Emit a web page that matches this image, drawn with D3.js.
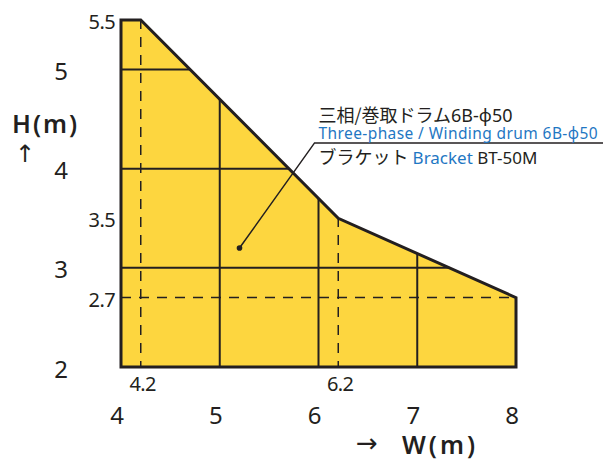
<!DOCTYPE html>
<html>
<head>
<meta charset="utf-8">
<script src="https://cdn.jsdelivr.net/npm/d3@7"></script>
<style>
  body { margin: 0; background: #fff; }
  text { fill: #231f20; }
</style>
</head>
<body>
<div id="viz"></div>
<script>
// working range outline (W, H) in metres
var outlineW = [4, 4, 4.2, 6.2, 8, 8];
var outlineH = [2, 5.5, 5.5, 3.5, 2.7, 2];

// grid lines
var gridH = [5, 4, 3];
var gridW = [5, 6, 7];

// dashed reference lines
var refW = [4.2, 6.2];
var refWTop = [5.5, 3.5];
var refH = [2.7];

// tick labels
var bigTicksW = [4, 5, 6, 7, 8];
var bigTicksH = [5, 4, 3, 2];
var smallTicksW = [4.2, 6.2];
var smallTicksH = [5.5, 3.5, 2.7];

// annotation
var notePoint = [5.2, 3.2];
var noteElbow = [5.96, 4.26];
var noteLine1 = ['三相/巻取ドラム', '6B-φ50'];
var noteLine2 = 'Three-phase / Winding drum 6B-φ50';
var noteLine3 = ['ブラケット ', 'Bracket', ' BT-50M'];

var width = 603, height = 460;
var blue = '#1f77c3';

var svg = d3.select('#viz').append('svg')
    .attr('width', width)
    .attr('height', height);

var x = d3.scaleLinear().domain([4, 8]).range([121, 516]);
var y = d3.scaleLinear().domain([2, 5.5]).range([367, 20]);

// top edge of the area, as H for a W and W for an H
var topOfW = d3.scaleLinear().domain([4, 4.2, 6.2, 8]).range([5.5, 5.5, 3.5, 2.7]);
var edgeOfH = d3.scaleLinear().domain([2.7, 3.5, 5.5]).range([8, 6.2, 4.2]);

var pts = outlineW.map(function(w, i) { return [x(w), y(outlineH[i])]; });
var line = d3.line();

// fill
svg.append('path')
    .attr('d', line(pts) + 'Z')
    .attr('fill', '#fdd63f')
    .attr('stroke', 'none');

// grid
svg.selectAll('.gh')
    .data(gridH)
    .enter().append('line')
    .attr('x1', x(4)).attr('x2', function(d) { return x(edgeOfH(d)); })
    .attr('y1', function(d) { return y(d); }).attr('y2', function(d) { return y(d); })
    .attr('stroke', '#231f20').attr('stroke-width', 2);

svg.selectAll('.gw')
    .data(gridW)
    .enter().append('line')
    .attr('x1', function(d) { return x(d); }).attr('x2', function(d) { return x(d); })
    .attr('y1', y(2)).attr('y2', function(d) { return y(topOfW(d)); })
    .attr('stroke', '#231f20').attr('stroke-width', 2);

// dashed
svg.selectAll('.dw')
    .data(refW)
    .enter().append('line')
    .attr('x1', function(d) { return x(d); }).attr('x2', function(d) { return x(d); })
    .attr('y1', y(2)).attr('y2', function(d, i) { return y(refWTop[i]); })
    .attr('stroke', '#231f20').attr('stroke-width', 1.5)
    .attr('stroke-dasharray', '10,8').attr('stroke-dashoffset', 4);

svg.selectAll('.dh')
    .data(refH)
    .enter().append('line')
    .attr('x1', x(4)).attr('x2', x(8))
    .attr('y1', function(d) { return y(d); }).attr('y2', function(d) { return y(d); })
    .attr('stroke', '#231f20').attr('stroke-width', 1.5)
    .attr('stroke-dasharray', '10,8');

// outline
svg.append('path')
    .attr('d', line(pts) + 'Z')
    .attr('fill', 'none')
    .attr('stroke', '#231f20')
    .attr('stroke-width', 3)
    .attr('stroke-linejoin', 'miter');

// tick labels
svg.selectAll('.btw')
    .data(bigTicksW)
    .enter().append('text')
    .attr('x', function(d) { return x(d) - 4; })
    .attr('y', 424)
    .attr('text-anchor', 'middle')
    .style('font-family', 'Noto Sans')
    .style('font-size', '24px')
    .text(function(d) { return d; });

svg.selectAll('.bth')
    .data(bigTicksH)
    .enter().append('text')
    .attr('x', 61)
    .attr('y', function(d) { return y(d) + 2; })
    .attr('dy', '0.36em')
    .attr('text-anchor', 'middle')
    .style('font-family', 'Noto Sans')
    .style('font-size', '24px')
    .text(function(d) { return d; });

svg.selectAll('.stw')
    .data(smallTicksW)
    .enter().append('text')
    .attr('x', function(d) { return x(d) + 2; })
    .attr('y', 391)
    .attr('text-anchor', 'middle')
    .style('font-family', 'Noto Sans')
    .style('font-size', '20px')
    .style('letter-spacing', '-0.6px')
    .text(function(d) { return d.toFixed(1); });

svg.selectAll('.sth')
    .data(smallTicksH)
    .enter().append('text')
    .attr('x', 115)
    .attr('y', function(d) { return y(d) + 2; })
    .attr('dy', '0.36em')
    .attr('text-anchor', 'end')
    .style('font-family', 'Noto Sans')
    .style('font-size', '20px')
    .style('letter-spacing', '-0.6px')
    .text(function(d) { return d.toFixed(1); });

// axis titles
svg.append('text')
    .attr('x', 12).attr('y', 133)
    .style('font-family', 'Noto Sans')
    .style('font-size', '25px')
    .style('font-weight', 600)
    .style('letter-spacing', '2px')
    .text('H(m)');
svg.append('text')
    .attr('x', 25).attr('y', 162)
    .attr('text-anchor', 'middle')
    .style('font-family', 'DejaVu Sans')
    .style('font-size', '24px')
    .text('↑');

svg.append('text')
    .attr('x', 356).attr('y', 452)
    .style('font-family', 'DejaVu Sans')
    .style('font-size', '26px')
    .text('→');
svg.append('text')
    .attr('x', 402).attr('y', 454)
    .style('font-family', 'Noto Sans')
    .style('font-size', '25px')
    .style('font-weight', 600)
    .style('letter-spacing', '3px')
    .text('W(m)');

// annotation
svg.append('circle')
    .attr('cx', x(notePoint[0])).attr('cy', y(notePoint[1]))
    .attr('r', 2.8).attr('fill', '#231f20');
svg.append('path')
    .attr('d', line([[x(notePoint[0]), y(notePoint[1])], [x(noteElbow[0]), y(noteElbow[1])], [width, y(noteElbow[1])]]))
    .attr('fill', 'none')
    .attr('stroke', '#231f20')
    .attr('stroke-width', 1.5);

var tx = x(noteElbow[0]) + 4;
var t1 = svg.append('text').attr('x', tx).attr('y', 122)
    .style('font-family', 'Noto Sans CJK JP');
t1.append('tspan').style('font-size', '18px').text(noteLine1[0]);
t1.append('tspan').style('font-size', '18px').style('font-family', 'Noto Sans').text(noteLine1[1]);

svg.append('text').attr('x', tx).attr('y', 139)
    .style('font-family', 'Noto Sans')
    .style('font-size', '15.5px')
    .style('letter-spacing', '0.4px')
    .style('fill', blue)
    .text(noteLine2);

var t3 = svg.append('text').attr('x', tx).attr('y', 164)
    .style('font-family', 'Noto Sans CJK JP');
t3.append('tspan').style('font-size', '18px').text(noteLine3[0]);
t3.append('tspan').style('font-size', '17px').style('font-family', 'Noto Sans').style('fill', blue).text(noteLine3[1]);
t3.append('tspan').style('font-size', '17px').style('font-family', 'Noto Sans').text(noteLine3[2]);
</script>
</body>
</html>
